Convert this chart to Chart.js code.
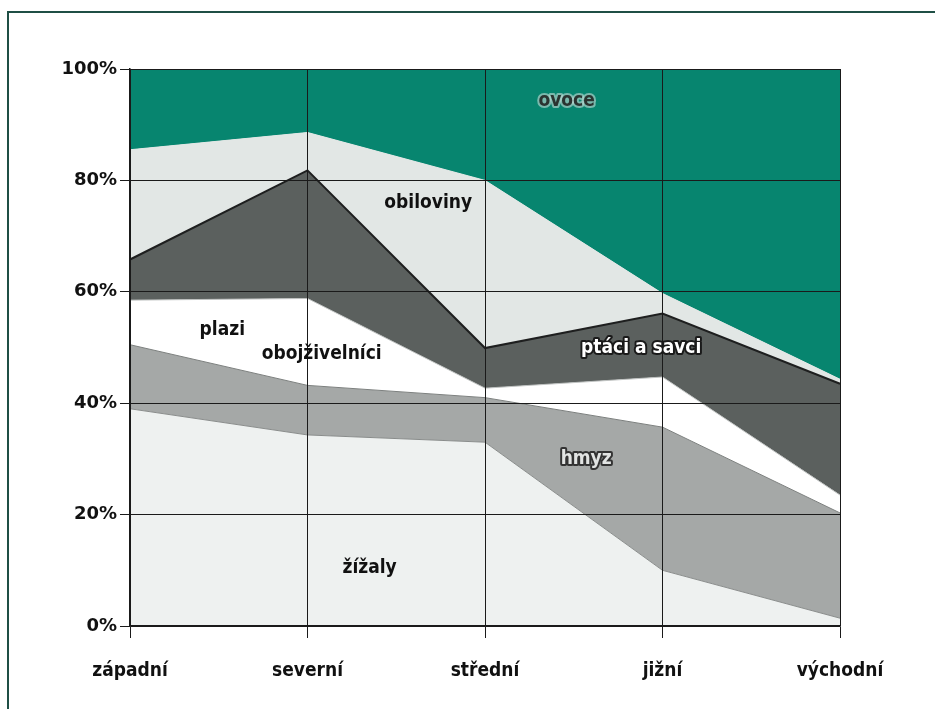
<!DOCTYPE html>
<html>
<head>
<meta charset="utf-8">
<script src="https://cdn.jsdelivr.net/npm/chart.js@4/dist/chart.umd.min.js"></script>
<style>
  html, body { margin: 0; padding: 0; background: #fff; }
  #wrap { position: relative; width: 935px; height: 709px; }
  #frame { position: absolute; left: 7px; top: 11px; width: 940px; height: 710px;
           border-left: 2px solid #1f4f45; border-top: 2px solid #1f4f45; box-sizing: border-box; }
  canvas { position: absolute; left: 0; top: 0; }
</style>
</head>
<body>
<div id="wrap">
  <div id="frame"></div>
  <canvas id="chart" width="935" height="709"></canvas>
</div>
<script>
// === DATA ===
const oblasti = ['západní', 'severní', 'střední', 'jižní', 'východní'];

// podíly v procentech (odspodu nahoru)
const zizaly      = [39.0, 34.3, 33.0, 10.0,  1.4];
const hmyz        = [11.5,  8.9,  8.0, 25.7, 18.9];
const plaziObojz  = [ 8.0, 15.6,  1.7,  9.0,  3.2];
const ptaciSavci  = [ 7.3, 23.0,  7.2, 11.4, 20.0];
const obiloviny   = [19.7,  6.8, 30.1,  3.6,  0.8];
const ovoce       = [14.5, 11.4, 20.0, 40.3, 55.7];

const yTicks = [0, 20, 40, 60, 80, 100];

// popisky v grafu: [pozice na ose x (index oblasti), hodnota v %]
const popisky = [
  { text: 'ovoce',          at: [2.46, 94.3], fill: '#2b3330', stroke: 'rgba(200,220,215,0.6)' },
  { text: 'obiloviny',      at: [1.68, 75.9], fill: '#111' },
  { text: 'plazi',          at: [0.52, 53.1], fill: '#111' },
  { text: 'obojživelníci',  at: [1.08, 48.8], fill: '#111' },
  { text: 'ptáci a savci',  at: [2.88, 49.9], fill: '#fff', stroke: '#1a1a1a' },
  { text: 'hmyz',           at: [2.57, 30.0], fill: '#e2e4e3', stroke: '#333' },
  { text: 'žížaly',         at: [1.35, 10.4], fill: '#111' }
];

function vrstva(label, data, bg, border, width, fill) {
  return {
    label: label,
    data: data,
    backgroundColor: bg,
    borderColor: border,
    borderWidth: width,
    fill: fill,
    pointRadius: 0,
    tension: 0
  };
}

// Popisky oblastí nakreslené po datech
const popiskyPlugin = {
  id: 'popisky',
  afterDraw(chart) {
    const ctx = chart.ctx;
    const x = chart.scales.x;
    const y = chart.scales.y;
    const krok = (x.right - x.left) / (oblasti.length - 1);
    ctx.save();
    ctx.font = 'bold 19px "DejaVu Sans Condensed", "DejaVu Sans", sans-serif';
    ctx.textAlign = 'center';
    ctx.textBaseline = 'middle';
    popisky.forEach(p => {
      const px = x.left + p.at[0] * krok;
      const py = y.getPixelForValue(p.at[1]);
      if (p.stroke) {
        ctx.lineWidth = 4;
        ctx.lineJoin = 'round';
        ctx.strokeStyle = p.stroke;
        ctx.strokeText(p.text, px, py);
      }
      ctx.fillStyle = p.fill;
      ctx.fillText(p.text, px, py);
    });
    ctx.restore();
  }
};

new Chart(document.getElementById('chart'), {
  type: 'line',
  data: {
    labels: oblasti,
    datasets: [
      vrstva('žížaly', zizaly, '#eef1f0', '#8a8d8c', 1, 'origin'),
      vrstva('hmyz', hmyz, '#a5a8a7', '#7d807f', 1, '-1'),
      vrstva('plazi, obojživelníci', plaziObojz, '#ffffff', '#bfc2c1', 1, '-1'),
      vrstva('ptáci a savci', ptaciSavci, '#5b605e', '#1e1f1f', 2, '-1'),
      vrstva('obiloviny', obiloviny, '#e2e7e5', '#e2e7e5', 1, '-1'),
      vrstva('ovoce', ovoce, '#07856f', '#1d4d43', 1.5, '-1')
    ]
  },
  options: {
    responsive: false,
    animation: false,
    layout: { padding: { left: 0, right: 95, top: 69, bottom: 0 } },
    plugins: {
      legend: { display: false },
      tooltip: { enabled: false }
    },
    scales: {
      x: {
        offset: false,
        grid: { z: 1, color: '#1a1a1a', lineWidth: 1, tickLength: 12, drawTicks: true },
        border: { display: true, color: '#1a1a1a', width: 1.5, z: 1 },
        ticks: {
          color: '#111',
          padding: 22,
          maxRotation: 0,
          font: { family: '"DejaVu Sans Condensed", "DejaVu Sans", sans-serif', weight: 'bold', size: 19 }
        },
        afterFit(scale) { scale.height = 83; }
      },
      y: {
        stacked: true,
        min: 0,
        max: 100,
        afterBuildTicks(scale) { scale.ticks = yTicks.map(v => ({ value: v })); },
        grid: { z: 1, color: '#1a1a1a', lineWidth: 1, tickLength: 10, drawTicks: true },
        border: { display: true, color: '#1a1a1a', width: 1.5, z: 1 },
        ticks: {
          color: '#111',
          padding: 3,
          callback: v => v + '%',
          font: { family: '"DejaVu Sans", sans-serif', weight: 'bold', size: 18 }
        },
        afterFit(scale) { scale.width = 130; }
      }
    }
  },
  plugins: [popiskyPlugin]
});
</script>
</body>
</html>
